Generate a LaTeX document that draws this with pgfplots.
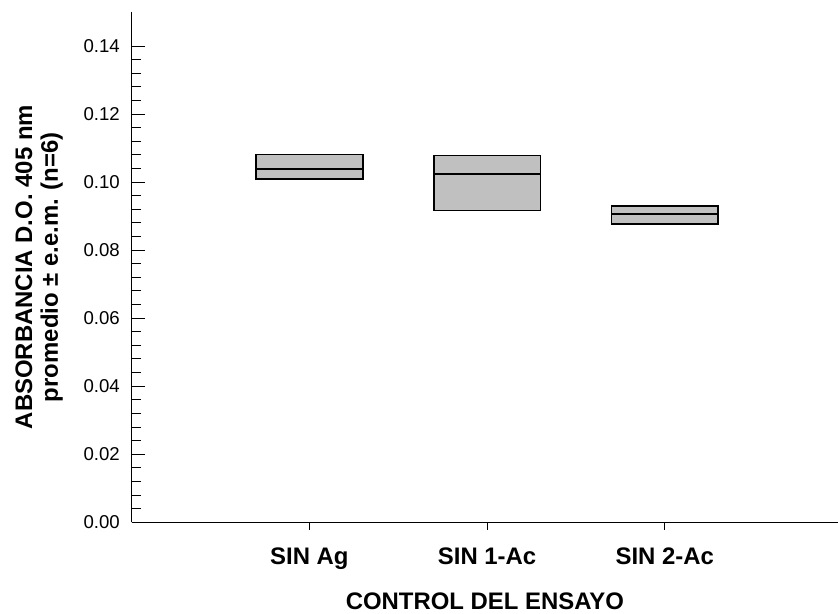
\documentclass[border=0pt]{standalone}
\usepackage{pgfplots}
\pgfplotsset{compat=1.18}
\usepackage{pgfplotstable}
\usepgfplotslibrary{statistics}
\usepackage{fontspec}
\setmainfont{Liberation Sans}
\definecolor{boxgray}{HTML}{C0C0C0}

\pgfplotstableread{
pos lq med uq
1 0.1009 0.1039 0.1081
2 0.0917 0.1024 0.1078
3 0.0876 0.0907 0.0930
}\boxdata

\newcommand{\drawbox}[1]{%
  \pgfplotstablegetelem{#1}{lq}\of\boxdata\edef\bLQ{\pgfplotsretval}%
  \pgfplotstablegetelem{#1}{med}\of\boxdata\edef\bMED{\pgfplotsretval}%
  \pgfplotstablegetelem{#1}{uq}\of\boxdata\edef\bUQ{\pgfplotsretval}%
  \pgfplotstablegetelem{#1}{pos}\of\boxdata\edef\bPOS{\pgfplotsretval}%
  \edef\boxcmd{\noexpand\addplot[boxplot prepared={draw position=\bPOS, lower whisker=\bLQ, lower quartile=\bLQ, median=\bMED, upper quartile=\bUQ, upper whisker=\bUQ, box extend=0.6, whisker extend=0}, draw=black, fill=boxgray, line width=1.2bp, solid, mark=none] coordinates {};}%
  \boxcmd
}

\begin{document}
\begin{tikzpicture}
\useasboundingbox (-98.8bp,-68.8bp) rectangle (529.7bp,391.7bp);
\begin{axis}[
  name=main,
  at={(0,0)}, anchor=south west,
  scale only axis,
  width=529.7bp, height=382.7bp,
  xmin=0, xmax=3.975,
  ymin=0, ymax=0.15,
  axis x line*=bottom, axis y line*=left,
  axis line style={-, line width=1bp, black},
  tick align=inside,
  major tick length=10bp,
  minor tick length=6.75bp,
  xtick={1,2,3},
  xticklabels={SIN Ag, SIN 1-Ac, SIN 2-Ac},
  xtick style={draw=none},
  ytick={0,0.02,0.04,0.06,0.08,0.10,0.12,0.14},
  minor y tick num=4,
  ytick style={line width=0.75bp, black},
  minor tick style={line width=0.75bp, black},
  yticklabel style={/pgf/number format/.cd, fixed, fixed zerofill, precision=2, assume math mode=true, /tikz/.cd, anchor=east, inner sep=0pt, xshift=-8.8bp, font=\fontsize{14}{16}\selectfont},
  scaled y ticks=false,
  xticklabel style={anchor=base, inner sep=0pt, yshift=-31.3bp, font=\fontsize{18}{20}\selectfont\bfseries},
  every axis x label/.style={at={(axis description cs:0.5,-0.1719)}, anchor=base, inner sep=0pt, font=\fontsize{18}{20}\selectfont\bfseries},
  every axis y label/.style={at={(axis description cs:-0.1652,0.5)}, rotate=90, anchor=north, inner sep=0pt, align=center, font=\fontsize{18}{19.5}\selectfont\bfseries},
  xlabel={CONTROL DEL ENSAYO},
  ylabel={ABSORBANCIA D.O.  405 nm\\promedio ± e.e.m. (n=6)},
  boxplot/draw direction=y,
]
\drawbox{0}
\drawbox{1}
\drawbox{2}
\end{axis}
\begin{axis}[
  at={(0,0)}, anchor=south west,
  scale only axis,
  width=529.7bp, height=382.7bp,
  xmin=0, xmax=3.975,
  ymin=0, ymax=0.15,
  axis x line*=bottom, axis y line=none,
  x axis line style={draw=none},
  tick align=outside,
  major tick length=5.5bp,
  xtick={1,2,3},
  xticklabels={},
  xtick style={line width=0.75bp, black},
]
\end{axis}
\end{tikzpicture}
\end{document}
